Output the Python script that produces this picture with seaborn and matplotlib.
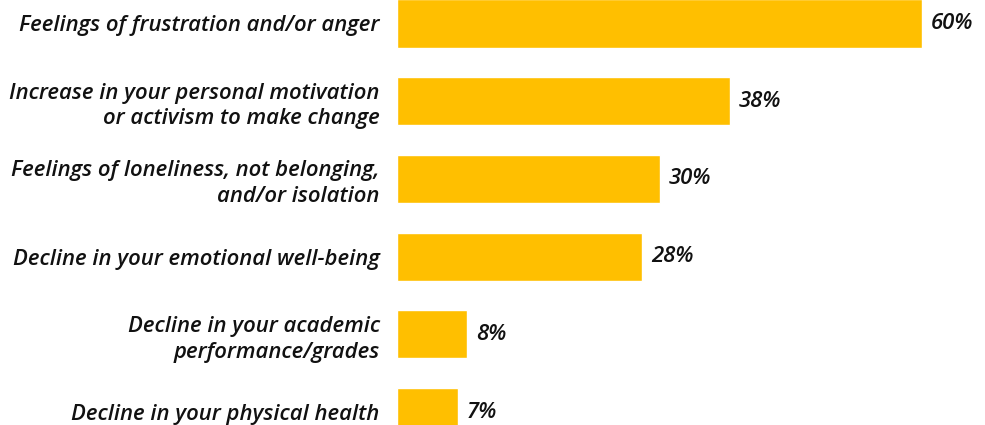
import matplotlib
matplotlib.use("Agg")
import matplotlib.pyplot as plt
import seaborn as sns
import pandas as pd

categories = [
    "Feelings of frustration and/or anger",
    "Increase in your personal motivation\nor activism to make change",
    "Feelings of loneliness, not belonging,\nand/or isolation",
    "Decline in your emotional well-being",
    "Decline in your academic\nperformance/grades",
    "Decline in your physical health",
]
values = [60, 38, 30, 28, 8, 7]
value_labels = ["60%", "38%", "30%", "28%", "8%", "7%"]

df = pd.DataFrame({"category": categories, "value": values})

sns.set_theme(style="white")
plt.rcParams["font.family"] = ["Open Sans", "DejaVu Sans"]

fig = plt.figure(figsize=(9.85, 4.25), dpi=100)
ax = fig.add_axes([397 / 985, 0, 588 / 985, 1])

sns.barplot(data=df, x="value", y="category", color="#FFBF00", width=0.62,
            saturation=1, ax=ax, orient="h")

ax.set_xlim(0, 588 / 8.75)
ax.set_ylim(5.167, -0.302)
ax.set_xlabel("")
ax.set_ylabel("")
ax.set_xticks([])
for s in ax.spines.values():
    s.set_visible(False)

ax.tick_params(axis="y", length=0, pad=12.5)
for lab in ax.get_yticklabels():
    lab.set_fontsize(15.9)
    lab.set_fontstyle("italic")
    lab.set_fontweight("semibold")
    lab.set_color("#111111")
    lab.set_linespacing(1.3)
    lab.set_horizontalalignment("right")
    lab.set_multialignment("right")

for i, (v, t) in enumerate(zip(values, value_labels)):
    ax.text(v + 1.0, i, t, va="center", ha="left", fontsize=15.9,
            fontstyle="italic", fontweight="semibold", color="#111111")

fig.savefig("out.png", dpi=100)
